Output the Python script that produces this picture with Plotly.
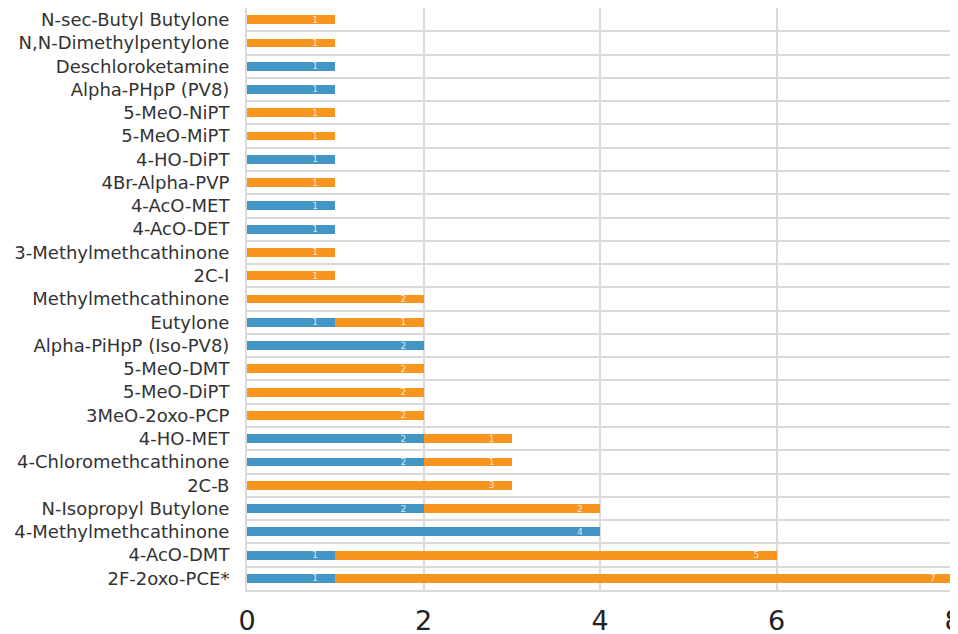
import plotly.graph_objects as go

# ─── DATA (bottom → top) ─────────────────────────────────────────────────────
substances = [
    "2F-2oxo-PCE*", "4-AcO-DMT", "4-Methylmethcathinone", "N-Isopropyl Butylone",
    "2C-B", "4-Chloromethcathinone", "4-HO-MET", "3MeO-2oxo-PCP", "5-MeO-DiPT",
    "5-MeO-DMT", "Alpha-PiHpP (Iso-PV8)", "Eutylone", "Methylmethcathinone",
    "2C-I", "3-Methylmethcathinone", "4-AcO-DET", "4-AcO-MET", "4Br-Alpha-PVP",
    "4-HO-DiPT", "5-MeO-MiPT", "5-MeO-NiPT", "Alpha-PHpP (PV8)",
    "Deschloroketamine", "N,N-Dimethylpentylone", "N-sec-Butyl Butylone",
]
blue_counts = [1, 1, 4, 2, None, 2, 2, None, None, None, 2, 1, None,
               None, None, 1, 1, None, 1, None, None, 1, 1, None, None]
orange_counts = [7, 5, None, 2, 3, 1, 1, 2, 2, 2, None, 1, 2,
                 1, 1, None, None, 1, None, 1, 1, None, None, 1, 1]
x_ticks = [0, 2, 4, 6, 8]

BLUE = "#4396c4"
ORANGE = "#f7951e"
FONT = "DejaVu Sans"
GRID = "#d9d9d9"
PAD = "\u00a0" * 5   # keeps the in-bar count a little away from the bar end

fig = go.Figure()
for vals, color in [(blue_counts, BLUE), (orange_counts, ORANGE)]:
    fig.add_trace(go.Bar(
        y=substances, x=vals, orientation="h",
        marker=dict(color=color, line=dict(width=0)),
        width=0.38,
        text=vals, texttemplate="%{x}" + PAD, textangle=0,
        textposition="inside", insidetextanchor="end", constraintext="none",
        textfont=dict(family=FONT, size=9, color="rgba(255,255,255,0.8)"),
        showlegend=False, hoverinfo="x+y",
    ))

# page body has an 8px margin, so the figure is a bit smaller than the window
fig.update_layout(
    barmode="stack",
    width=950, height=626,
    margin=dict(l=239, r=5, t=0, b=44, autoexpand=False),
    plot_bgcolor="white", paper_bgcolor="white",
    font=dict(family=FONT, color="#333333"),
)
fig.update_xaxes(
    range=[0, 8], tickvals=x_ticks, automargin=False, ticklabeloverflow="allow",
    showgrid=True, gridcolor=GRID, gridwidth=2,
    zeroline=False, showline=True, linecolor=GRID, linewidth=2, mirror=True,
    tickfont=dict(size=27, color="#222222"), ticks="", ticklabelstandoff=6,
)
fig.update_yaxes(
    type="category", tickson="boundaries", automargin=False,
    showgrid=True, gridcolor=GRID, gridwidth=2,
    showline=True, linecolor=GRID, linewidth=2, mirror=True,
    tickfont=dict(size=18, color="#333333"), ticks="", ticklabelstandoff=12,
)

fig.write_html("out.html")
